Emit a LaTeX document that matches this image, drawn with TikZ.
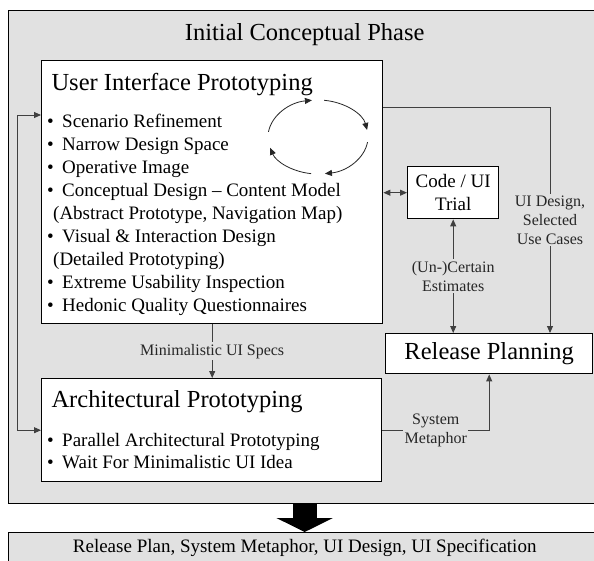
\documentclass[tikz,border=0pt]{standalone}
\usepackage{fontspec}
\setmainfont{Liberation Serif}
\usetikzlibrary{arrows.meta,calc,positioning}
\definecolor{phasegray}{RGB}{225,225,225}
\newcommand{\itm}{\makebox[15pt][l]{\textbullet}}

\begin{document}
\begin{tikzpicture}[x=1pt, y=1pt, >={Triangle[length=7pt,width=6pt]}, every node/.style={align=center}]
    \tikzset{
      phasebox/.style={
        draw,
        line width=1.4pt,
        fill=phasegray,
        anchor=north west,
        inner sep=0pt
      },
      protobox/.style={
        draw,
        line width=1.4pt,
        fill=white,
        anchor=north west,
        inner sep=0pt
      },
      bigtext/.style={font=\fontsize{24.5}{29}\selectfont},
      midtext/.style={font=\fontsize{19}{23}\selectfont},
      flowlabel/.style={fill=phasegray, inner sep=1.5pt, text=black!85, font=\fontsize{16}{19.2}\selectfont},
      flow/.style={draw=black!75, line width=0.9pt}
    }
    \useasboundingbox (0,0) rectangle (594,-560);
    \node[phasebox, minimum width=592pt, minimum height=493pt] (phase) at (8,-10) {};
    \node[bigtext, anchor=base] (phasetitle) at ($(phase.north)+(0,-30)$) {Initial Conceptual Phase};
    \node[protobox, minimum width=341pt, minimum height=263pt] (ui) at (41,-60) {};
    \node[bigtext, anchor=base west] (uititle) at ($(ui.north west)+(7,-30)$) {User Interface Prototyping};
    \node[midtext, anchor=north west, align=left, inner sep=0pt] (uilist) at ($(ui.north west)+(6,-50.9)$) {\strut\itm Scenario Refinement\\
      \itm Narrow Design Space\\
      \itm Operative Image\\
      \itm Conceptual Design -- Content Model\\
      \hspace*{6pt}(Abstract Prototype, Navigation Map)\\
      \itm Visual \& Interaction Design\\
      \hspace*{6pt}(Detailed Prototyping)\\
      \itm Extreme Usability Inspection\\
      \itm Hedonic Quality Questionnaires};
    \coordinate (loopc) at (318,-137);
    \draw[flow, draw=black!85, line width=0.8pt, ->] ([shift={(172:50 and 37)}]loopc) arc[start angle=172, end angle=97, x radius=50, y radius=37];
    \draw[flow, draw=black!85, line width=0.8pt, ->] ([shift={(83:50 and 37)}]loopc) arc[start angle=83, end angle=11, x radius=50, y radius=37];
    \draw[flow, draw=black!85, line width=0.8pt, ->] ([shift={(-8:50 and 37)}]loopc) arc[start angle=-8, end angle=-82, x radius=50, y radius=37];
    \draw[flow, draw=black!85, line width=0.8pt, ->] ([shift={(-98:50 and 37)}]loopc) arc[start angle=-98, end angle=-163, x radius=50, y radius=37];
    \node[protobox, midtext, minimum width=91pt, minimum height=52pt] (code) at (407,-166) {Code / UI\\Trial};
    \node[protobox, bigtext, minimum width=207pt, minimum height=40pt] (rel) at (385,-333) {Release Planning};
    \node[protobox, minimum width=340pt, minimum height=103pt] (arch) at (41,-378) {};
    \node[bigtext, anchor=base west] (archtitle) at ($(arch.north west)+(7,-29)$) {Architectural Prototyping};
    \node[font=\fontsize{19}{22}\selectfont, anchor=north west, align=left, inner sep=0pt] (archlist) at ($(arch.north west)+(6,-52.6)$) {\strut\itm Parallel Architectural Prototyping\\
      \itm Wait For Minimalistic UI Idea};
    \node[phasebox, midtext, minimum width=592pt, minimum height=30pt] (result) at (8,-532) {Release Plan, System Metaphor, UI Design, UI Specification};
    \coordinate (uibend) at (550,-107);
    \draw[flow, <->] (ui.east |- code.west) -- (code.west);
    \draw[flow, ->] (ui.east |- uibend) -- (uibend) -- node[flowlabel] {UI Design,\\Selected\\Use Cases} (uibend |- rel.north);
    \draw[flow, <->] (code.south) -- node[flowlabel] {(Un-)Certain\\Estimates} (code.south |- rel.north);
    \draw[flow, ->] (ui.south) -- node[flowlabel] {Minimalistic UI Specs} (ui.south |- arch.north);
    \draw[flow, ->] (arch.east) -| node[flowlabel, pos=0.25] {System\\Metaphor} (rel.south);
    \draw[flow, <->] ($(ui.north west)+(0,-55)$) -- ++(-24,0) |- (arch.west);
    \draw[line width=24pt, -{Triangle[length=14pt, width=56pt]}] (phase.south) -- (result.north);
  \end{tikzpicture}
\end{document}
